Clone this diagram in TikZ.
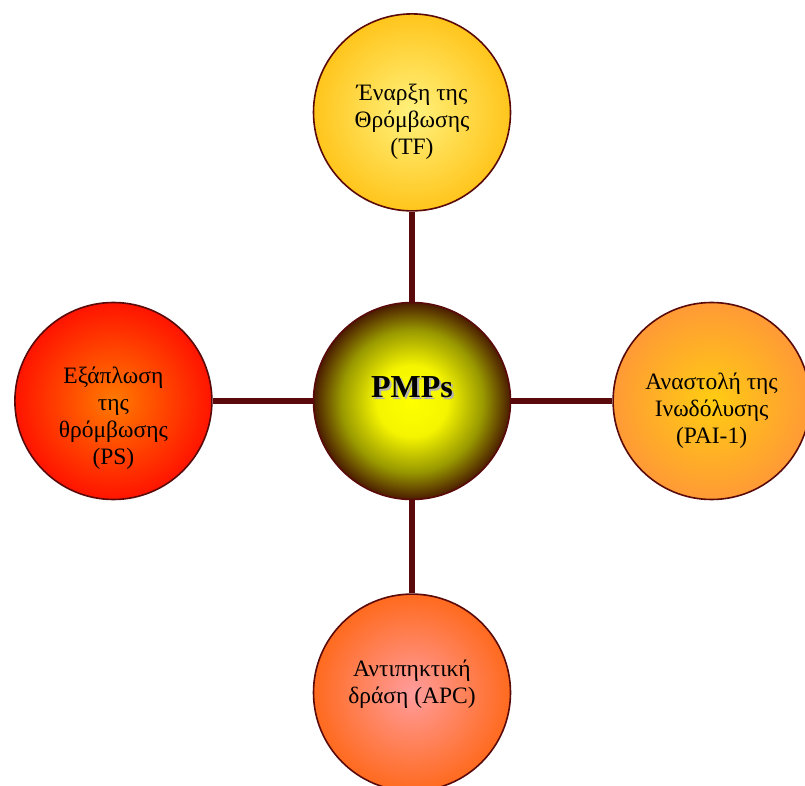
\documentclass[tikz,border=0pt]{standalone}
\usepackage{fontspec}
\setmainfont{Liberation Serif}
\usepackage{tikz}
\usetikzlibrary{positioning}

\definecolor{maroonline}{HTML}{5A0A0A}
\definecolor{tfin}{HTML}{FFF27E}
\definecolor{tfout}{HTML}{FFC51C}
\definecolor{paiin}{HTML}{FFCC12}
\definecolor{paiout}{HTML}{FF9A36}
\definecolor{psin}{HTML}{FF7A00}
\definecolor{psout}{HTML}{FF1400}
\definecolor{apcin}{HTML}{FF9C9C}
\definecolor{apcout}{HTML}{FF6A1E}
\definecolor{pmpedge}{HTML}{4A1C00}
\pgfdeclareradialshading{pmpshade}{\pgfpoint{0bp}{0bp}}{%
  color(0bp)=(yellow); color(9bp)=(yellow!96!black);
  color(18bp)=(yellow!60!black); color(25bp)=(pmpedge);
  color(50bp)=(pmpedge)}

\begin{document}
\begin{tikzpicture}[
  x=1pt, y=1pt,
  node distance=90pt and 100pt,
  bubble/.style={circle, draw=maroonline, line width=1.6pt, minimum size=197pt,
    align=center, font=\fontsize{23.5pt}{27pt}\selectfont},
  link/.style={draw=maroonline, line width=5.5pt}
]
\clip (0,0) rectangle (805,785);

\node[bubble, shading=pmpshade] (pmp) at (412,384)
  {\fontsize{32pt}{34pt}\selectfont\bfseries
   \rlap{\hspace{2pt}\raisebox{-2pt}{\textcolor{black!30}{PMPs}}}PMPs\rule[-27pt]{0pt}{1pt}};
\node[bubble, shading=radial, inner color=tfin, outer color=tfout, above=90pt of pmp] (tf)
  {\rule{0pt}{36pt}Έναρξη της\\Θρόμβωσης\\(TF)};
\node[bubble, shading=radial, inner color=paiin, outer color=paiout, right=101pt of pmp] (pai)
  {\rule{0pt}{36pt}Αναστολή της\\Ινωδόλυσης\\(PAI-1)};
\node[bubble, shading=radial, inner color=psin, outer color=psout, left=100pt of pmp] (ps)
  {\rule{0pt}{52pt}Εξάπλωση\\της\\θρόμβωσης\\(PS)};
\node[bubble, shading=radial, inner color=apcin, outer color=apcout, below=93pt of pmp] (apc)
  {Αντιπηκτική\\δράση (APC)\rule[-22pt]{0pt}{1pt}};

\draw[link] (pmp) -- (tf);
\draw[link] (pmp) -- (pai);
\draw[link] (pmp) -- (ps);
\draw[link] (pmp) -- (apc);
\end{tikzpicture}
\end{document}
